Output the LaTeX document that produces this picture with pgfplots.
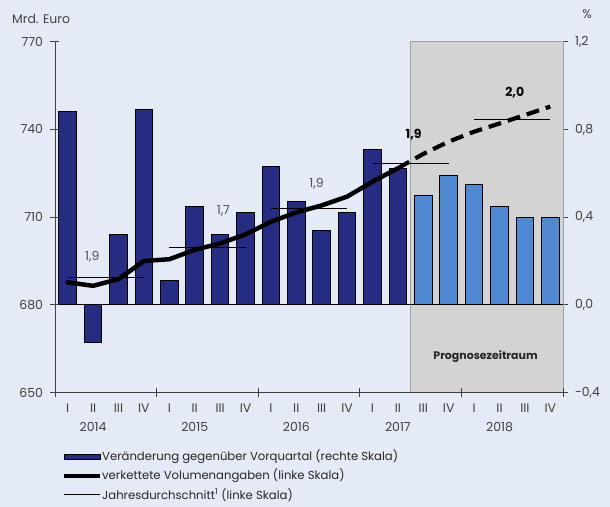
\documentclass[border=0pt]{standalone}
\usepackage{pgfplots}
\pgfplotsset{compat=1.18}
\usepackage{fontspec}
\setmainfont{Poppins}

\definecolor{bgblue}{HTML}{E4EAF6}
\definecolor{navy}{HTML}{252C82}
\definecolor{lightbar}{HTML}{5088D2}
\definecolor{progbox}{HTML}{D3D3D3}
\definecolor{progedge}{HTML}{A0A0A0}
\definecolor{axisgray}{HTML}{404040}
\definecolor{txtgray}{HTML}{505050}

\newcommand{\tickfont}{\fontsize{12.5}{14}\selectfont}
\newcommand{\legfont}{\fontsize{11.7}{13}\selectfont}

% quarterly change in % (right scale)
\pgfplotstableread{
x    v
0.5  0.88
1.5  -0.17
2.5  0.32
3.5  0.89
4.5  0.11
5.5  0.45
6.5  0.32
7.5  0.42
8.5  0.63
9.5  0.47
10.5 0.34
11.5 0.42
12.5 0.71
13.5 0.62
}\actualbars
\pgfplotstableread{
x    v
14.5 0.50
15.5 0.59
16.5 0.55
17.5 0.45
18.5 0.40
19.5 0.40
}\forecastbars

% chained volumes, bn euro (left scale)
\pgfplotstableread{
x    v
0.5  687.7
1.5  686.5
2.5  688.8
3.5  695.0
4.5  695.6
5.5  698.8
6.5  701.0
7.5  704.1
8.5  708.4
9.5  711.6
10.5 714.0
11.5 717.0
12.5 722.1
13.5 726.7
}\volactual
\pgfplotstableread{
x    v
13.5 726.7
14.5 731.6
15.5 735.8
16.5 739.2
17.5 742.0
18.5 744.9
19.5 747.8
}\volforecast

\begin{document}
\begin{tikzpicture}
\fill[bgblue] (-55bp,-114.3bp) rectangle (555bp,392.6bp);
\useasboundingbox (-55bp,-114.3bp) rectangle (555bp,392.6bp);

% right scale: bars
\begin{axis}[
  at={(0,0)}, anchor=south west,
  scale only axis, width=508bp, height=351bp,
  xmin=0, xmax=20, ymin=-0.4, ymax=1.2,
  axis x line=none, axis y line*=right,
  axis line style={axisgray, line width=0.8pt},
  ytick={-0.4,0,0.4,0.8,1.2},
  yticklabels={{-0,4},{0,0},{0,4},{0,8},{1,2}},
  tick align=center, major tick length=9bp,
  tick style={axisgray, line width=0.8pt},
  yticklabel style={font=\tickfont, text=axisgray, anchor=west, xshift=4bp},
  clip=false,
]
\addplot[fill=progbox, draw=progedge, line width=0.6pt] coordinates {(14,-0.4) (14,1.2) (20,1.2) (20,-0.4)};
\addplot[ybar, bar width=0.7, bar shift=0pt, fill=navy, draw=black, line width=1pt] table[x=x, y=v] {\actualbars};
\addplot[ybar, bar width=0.7, bar shift=0pt, fill=lightbar, draw=black, line width=1pt] table[x=x, y=v] {\forecastbars};
\addplot[black, line width=1pt] coordinates {(0,0) (20,0)};
\node[font=\fontsize{11}{12}\selectfont\bfseries, text=black!85] at (axis cs:16.95,-0.235) {Prognosezeitraum};
\end{axis}

% left scale: volumes and annual averages
\begin{axis}[
  at={(0,0)}, anchor=south west,
  scale only axis, width=508bp, height=351bp,
  xmin=0, xmax=20, ymin=650, ymax=770,
  axis x line*=bottom, axis y line*=left,
  axis line style={axisgray, line width=0.8pt},
  xtick={0,4,8,12,16,20}, xticklabels={},
  extra x ticks={0.5,1.5,...,19.5},
  extra x tick labels={I,{II\\[5pt]2014},III,IV,I,{II\\[5pt]2015},III,IV,I,{II\\[5pt]2016},III,IV,I,{II\\[5pt]2017},III,IV,I,{II\\[5pt]2018},III,IV},
  extra x tick style={major tick length=0pt, xticklabel style={align=center, font=\tickfont, text=axisgray, yshift=-8bp}},
  ytick={650,680,710,740,770},
  /pgf/number format/assume math mode=true,
  tick align=center, major tick length=9bp,
  tick style={axisgray, line width=0.8pt},
  yticklabel style={font=\tickfont, text=axisgray, anchor=east, xshift=-4bp},
  clip=false,
]
\addplot[black, line width=4.5pt, line join=round, line cap=round] table[x=x, y=v] {\volactual};
\addplot[black, line width=4.2pt, line join=round, dash pattern=on 13bp off 7bp] table[x=x, y=v] {\volforecast};
\addplot[black, line width=1.1pt] coordinates {(0.5,689.5) (3.5,689.5)};
\addplot[black, line width=1.1pt] coordinates {(4.5,699.7) (7.5,699.7)};
\addplot[black, line width=1.1pt] coordinates {(8.5,712.8) (11.5,712.8)};
\addplot[black, line width=1.1pt] coordinates {(12.5,728.4) (15.5,728.4)};
\addplot[black, line width=1.1pt] coordinates {(16.5,743.5) (19.5,743.5)};
\node[font=\tickfont, text=txtgray] at (axis cs:1.47,696.4) {1,9};
\node[font=\tickfont, text=txtgray] at (axis cs:6.63,712.1) {1,7};
\node[font=\tickfont, text=txtgray] at (axis cs:10.3,721.5) {1,9};
\node[font=\tickfont\bfseries] at (axis cs:14.12,738.1) {1,9};
\node[font=\tickfont\bfseries] at (axis cs:18.1,752.5) {2,0};
\end{axis}

% axis titles
\node[anchor=west, font=\tickfont, text=axisgray, inner sep=0pt] at (-43bp,373.7bp) {Mrd. Euro};
\node[font=\tickfont, text=axisgray, inner sep=0pt] at (532bp,378.7bp) {\%};

% legend
\draw[fill=navy, draw=black, line width=0.8pt] (9bp,-61.5bp) rectangle (45bp,-66.5bp);
\draw[black, line width=4pt] (9bp,-83bp) -- (45bp,-83bp);
\draw[black, line width=1.1pt] (9bp,-102.3bp) -- (45bp,-102.3bp);
\begin{scope}[every node/.style={anchor=west, font=\legfont, text=black!85, inner sep=0pt}]
\node at (47bp,-64bp) {Veränderung gegenüber Vorquartal (rechte Skala)};
\node at (47bp,-83bp) {verkettete Volumenangaben (linke Skala)};
\node at (47bp,-102.3bp) {Jahresdurchschnitt\textsuperscript{1} (linke Skala)};
\end{scope}
\end{tikzpicture}
\end{document}
